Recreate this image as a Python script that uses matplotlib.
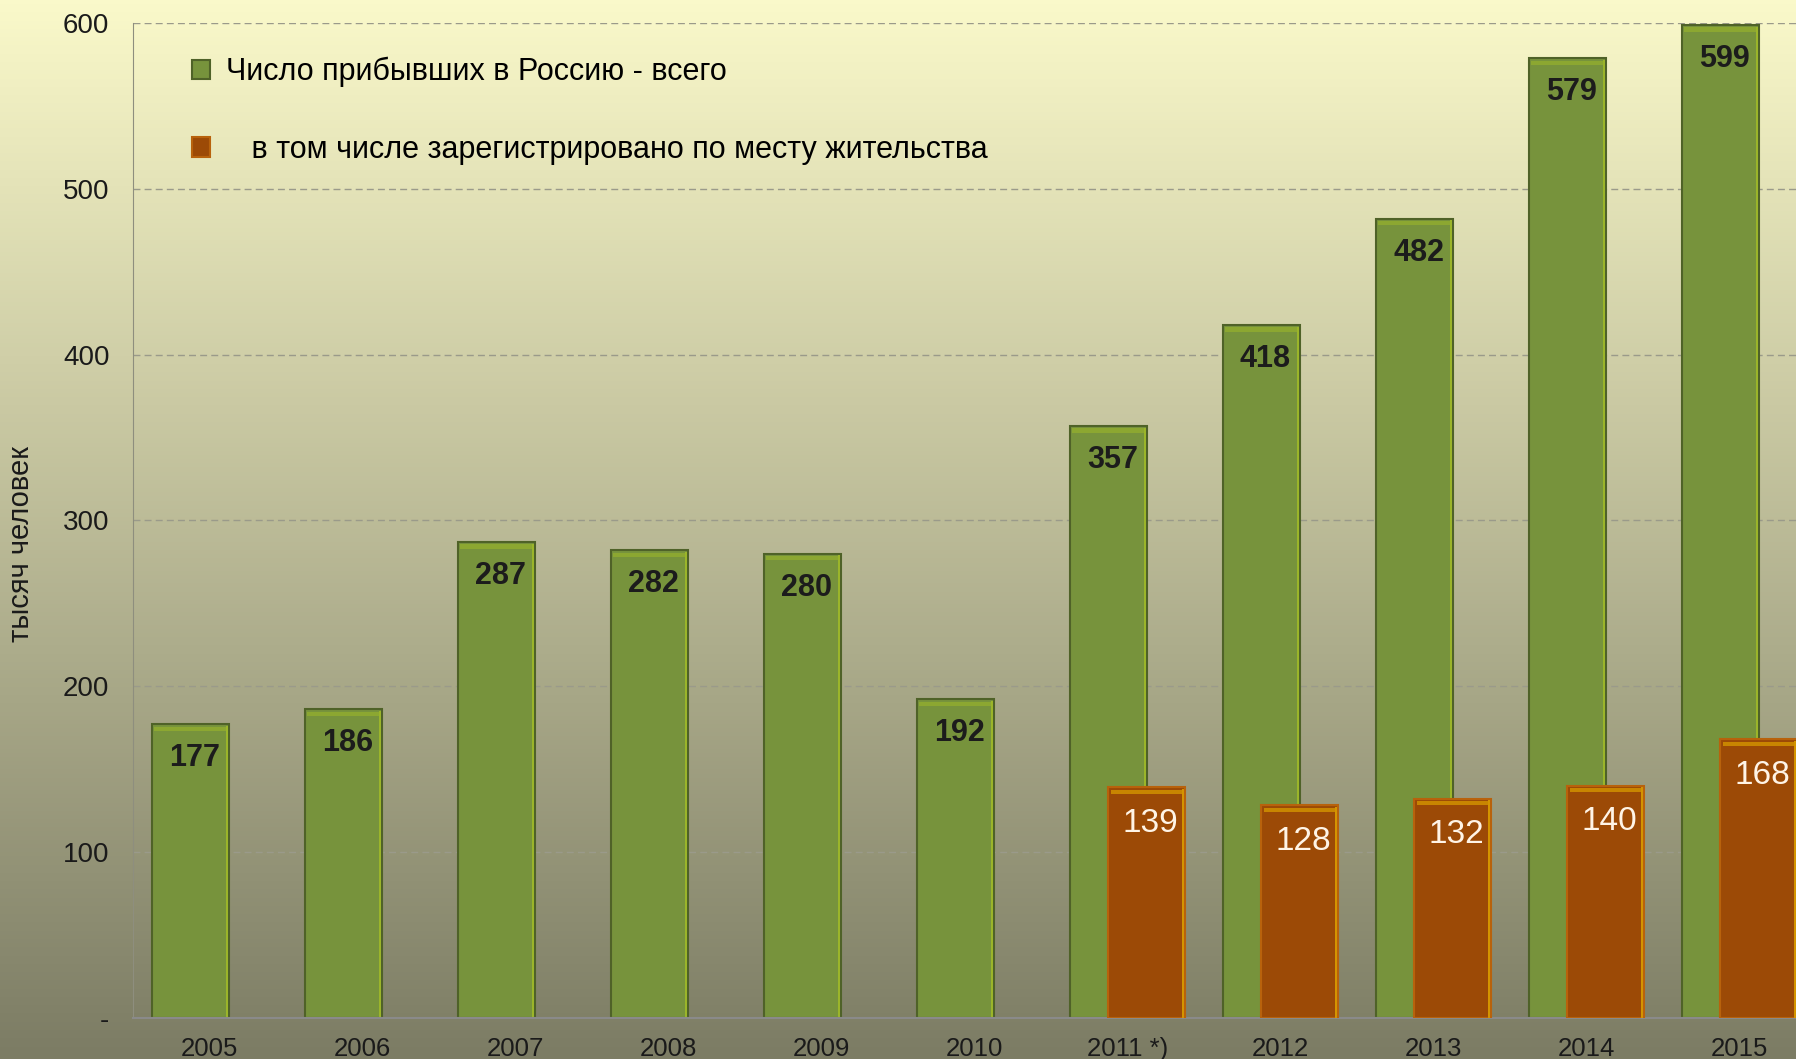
import matplotlib
matplotlib.use("Agg")
import matplotlib.pyplot as plt
import numpy as np
from matplotlib.patches import Patch

plt.rcParams['font.family'] = ['Liberation Sans', 'DejaVu Sans']

# Data (thousand people)
years = ["2005", "2006", "2007", "2008", "2009", "2010",
         "2011 *)", "2012", "2013", "2014", "2015"]
arrived = [177, 186, 287, 282, 280, 192, 357, 418, 482, 579, 599]
registered = [np.nan] * 6 + [139, 128, 132, 140, 168]
y_ticks = [0, 100, 200, 300, 400, 500, 600]
y_tick_labels = ["-", "100", "200", "300", "400", "500", "600"]

label_arrived = "Число прибывших в Россию - всего"
label_registered = "   в том числе зарегистрировано по месту жительства"

green = "#77933c"
green_edge = "#4f6228"
green_hi = "#9bb52a"
orange = "#9c4a06"
orange_edge = "#b8620c"
orange_hi = "#d49400"

W, H = 1796, 1059
fig = plt.figure(figsize=(W / 100, H / 100), dpi=100)

# background gradient: pale yellow at top to olive grey at bottom
bg = fig.add_axes([0, 0, 1, 1], zorder=-1)
top = np.array([250, 249, 202]) / 255
bottom = np.array([124, 124, 100]) / 255
t = np.linspace(0, 1, 256)[:, None]
grad = (top * (1 - t) + bottom * t)[:, None, :]
bg.imshow(grad, aspect="auto", extent=[0, 1, 0, 1])
bg.axis("off")

# plot area
ax = fig.add_axes([133 / W, 1 - 1017.5 / H, 1683 / W, 994.2 / H])
ax.set_facecolor("none")
ax.set_zorder(1)

x = np.arange(len(years))
width = 0.5
off = 0.125
arr = np.array(arrived)
mask = ~np.isnan(registered)
reg = np.array(registered)[mask]
xr = x[mask] + off

# main bars
ax.bar(x - off, arr, width, color=green, edgecolor=green_edge,
       linewidth=1.5, zorder=2)
# light strip along the right side and top of green bars
ax.bar(x - off + width / 2 - 0.012, arr - 1, 0.014, color=green_hi, zorder=2.1)
ax.bar(x - off, 2.5, width - 0.03, bottom=arr - 4, color=green_hi,
       alpha=0.6, zorder=2.1)

ax.bar(xr, reg, width, color=orange, edgecolor=orange_edge,
       linewidth=1.5, zorder=3)
ax.bar(xr + width / 2 - 0.012, reg - 1, 0.014, color=orange_hi, zorder=3.1)
ax.bar(xr, 2.5, width - 0.03, bottom=reg - 4, color=orange_hi,
       alpha=0.8, zorder=3.1)

# value labels
for xi, v in zip(x, arrived):
    ax.annotate(str(v), (xi - off, v), xytext=(3, -24.5), textcoords="offset points",
                ha="center", va="center", fontsize=22, fontweight="bold",
                color="#1c1c1c", zorder=4)
for xi, v in zip(xr, reg):
    ax.annotate(str(int(v)), (xi, v), xytext=(3, -26), textcoords="offset points",
                ha="center", va="center", fontsize=24, color="#fff4e6", zorder=4)

ax.set_xlim(-0.5, len(years) - 0.5)
ax.set_ylim(0, 600)
ax.set_yticks(y_ticks)
ax.set_yticklabels(y_tick_labels)
ax.set_xticks(x)
ax.set_xticklabels(years)
ax.tick_params(axis="y", length=0, pad=17, labelsize=20, labelcolor="#1a1a1a")
ax.tick_params(axis="x", length=0, pad=14, labelsize=18.5, labelcolor="#1a1a1a")

ax.set_axisbelow(True)
ax.yaxis.grid(True, linestyle=(0, (5, 3)), color="#9a9a8a", linewidth=1)
for s in ["top", "right"]:
    ax.spines[s].set_visible(False)
ax.spines["left"].set_color("#8e8e7e")
ax.spines["bottom"].set_color("#8a8a8a")
ax.spines["bottom"].set_linewidth(1.5)

ax.set_ylabel("тысяч человек", fontsize=21, color="#1a1a1a")
ax.yaxis.set_label_coords(-0.058, 0.476)

handles = [Patch(facecolor=green, edgecolor=green_edge, linewidth=1.5),
           Patch(facecolor=orange, edgecolor=orange_edge, linewidth=1.5)]
ax.legend(handles, [label_arrived, label_registered], loc="upper left",
          bbox_to_anchor=(192 / W, 1 - 57 / H), bbox_transform=fig.transFigure,
          frameon=False, fontsize=22, handlelength=0.6, handleheight=0.6,
          handletextpad=0.5, labelspacing=1.55, borderpad=0, borderaxespad=0)

fig.savefig("out.png", dpi=100)
